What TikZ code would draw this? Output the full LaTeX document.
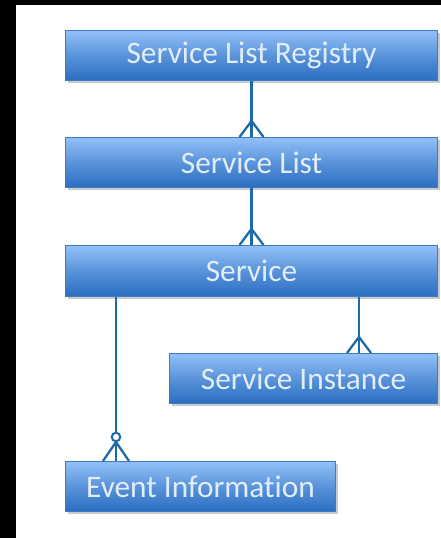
\documentclass[tikz,border=0pt]{standalone}
\usepackage{fontspec}
\setmainfont[RawFeature=-liga]{Carlito}
\usetikzlibrary{shadows,calc}
\definecolor{boxtop}{HTML}{93C0F9}
\definecolor{boxbot}{HTML}{2A6EC0}
\definecolor{boxedge}{HTML}{3C7CC4}
\definecolor{linkc}{HTML}{1E6AA8}
\definecolor{txtc}{HTML}{E2EDFB}
\tikzset{
  ent/.style={draw=boxedge, line width=0.8pt, top color=boxtop, bottom color=boxbot,
    middle color=boxtop!45!boxbot, text=txtc, font=\fontsize{23.5}{26}\selectfont,
    inner sep=0pt, anchor=north west,
    drop shadow={shadow xshift=1.6pt, shadow yshift=-1.6pt, fill=black!35, opacity=0.6}},
  link/.style={draw=linkc, line width=2.2pt},
  foot/.style={draw=linkc, line width=1.7pt},
}
\begin{document}
\begin{tikzpicture}[x=0.75pt,y=-0.75pt]
\fill[black] (0,0) rectangle (441,538);
\fill[white] (16,5) rectangle (441,538);
\useasboundingbox (0,0) rectangle (441,538);
\node[ent, minimum width=372*0.75pt, minimum height=50*0.75pt] (slr) at (65,30) {Service List Registry};
\node[ent, minimum width=372*0.75pt, minimum height=50*0.75pt] (sl) at (65,137) {Service List};
\node[ent, minimum width=372*0.75pt, minimum height=51*0.75pt] (svc) at (65,245) {Service};
\node[ent, minimum width=268*0.75pt, minimum height=50*0.75pt] (si) at (169,353) {Service Instance};
\node[ent, minimum width=270*0.75pt, minimum height=50*0.75pt] (ei) at (65,461) {Event Information};
% connectors
\draw[link] (slr.south) -- (sl.north);
\draw[foot] ($(sl.north)+(0,-16)$) -- ($(sl.north)+(-12,0)$);
\draw[foot] ($(sl.north)+(0,-16)$) -- ($(sl.north)+(12,0)$);
\draw[link] (sl.south) -- (svc.north);
\draw[foot] ($(svc.north)+(0,-16)$) -- ($(svc.north)+(-12,0)$);
\draw[foot] ($(svc.north)+(0,-16)$) -- ($(svc.north)+(12,0)$);
\coordinate (s1) at ($(svc.south west)+(294,0)$);
\coordinate (s1e) at ($(si.north west)+(190,0)$);
\draw[link] (s1) -- (s1e);
\draw[foot] ($(s1e)+(0,-16)$) -- ($(s1e)+(-12,0)$);
\draw[foot] ($(s1e)+(0,-16)$) -- ($(s1e)+(12,0)$);
\coordinate (s2) at ($(svc.south west)+(51,0)$);
\coordinate (s2e) at ($(ei.north west)+(51,0)$);
\draw[link] (s2) -- ($(s2e)+(0,-28)$);
\draw[link] ($(s2e)+(0,-20)$) -- (s2e);
\draw[foot, fill=white, line width=1.5pt] ($(s2e)+(0,-24)$) circle (3.2pt);
\draw[foot] ($(s2e)+(0,-19)$) -- ($(s2e)+(-13,0)$);
\draw[foot] ($(s2e)+(0,-19)$) -- ($(s2e)+(13,0)$);
\end{tikzpicture}
\end{document}
